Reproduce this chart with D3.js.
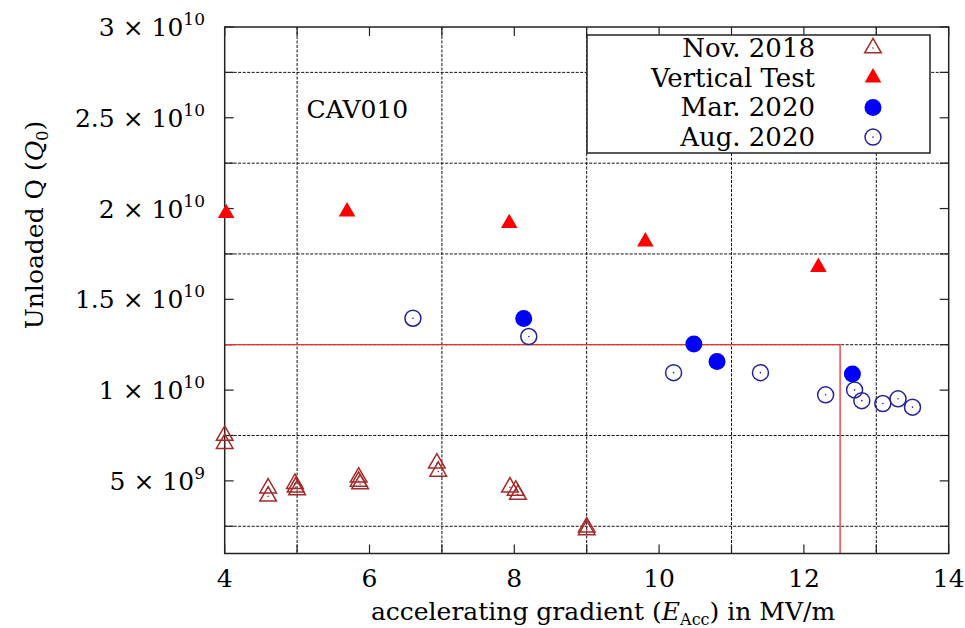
<!DOCTYPE html>
<html>
<head>
<meta charset="utf-8">
<script src="https://cdn.jsdelivr.net/npm/d3@7"></script>
<style>
body { margin: 0; background: #fff; }
svg { font-family: "DejaVu Serif", "Liberation Serif", serif; }
</style>
</head>
<body>
<div id="chart"></div>
<script>
// Nov. 2018 (hollow triangles)
var nov2018Grad = [4.0, 4.0, 4.6, 4.6, 4.97, 4.98, 5.0, 5.85, 5.85, 5.87, 6.93, 6.95, 7.94, 8.02, 8.05, 9.0, 9.0];
var nov2018Q = [7.5e9, 7.05e9, 4.6e9, 4.15e9, 4.85e9, 4.65e9, 4.5e9, 5.2e9, 4.97e9, 4.83e9, 5.97e9, 5.52e9, 4.65e9, 4.48e9, 4.25e9, 2.45e9, 2.3e9];
// vertical test (filled triangles)
var vtGrad = [4.02, 5.69, 7.93, 9.81, 12.2];
var vtQ = [1.974e10, 1.983e10, 1.919e10, 1.818e10, 1.677e10];
// Mar. 2020 (filled circles)
var mar2020Grad = [8.13, 10.48, 10.8, 12.67];
var mar2020Q = [1.395e10, 1.254e10, 1.157e10, 1.089e10];
// Aug. 2020 (hollow circles)
var aug2020Grad = [6.6, 8.2, 10.2, 11.4, 12.3, 12.7, 12.8, 13.09, 13.3, 13.5];
var aug2020Q = [1.396e10, 1.295e10, 1.096e10, 1.096e10, 9.74e9, 1.001e10, 9.42e9, 9.26e9, 9.52e9, 9.06e9];
// spec box
var specGrad = 12.5, specQ = 1.25e10;

var xTicks = [4, 5, 6, 7, 8, 9, 10, 11, 12, 13, 14];
var xLabels = [4, 6, 8, 10, 12, 14];
var xGrid = [5, 7, 9, 11, 13];
var yLabels = [
	{ v: 5e9, m: '5', e: '9' },
	{ v: 1e10, m: '1', e: '10' },
	{ v: 1.5e10, m: '1.5', e: '10' },
	{ v: 2e10, m: '2', e: '10' },
	{ v: 2.5e10, m: '2.5', e: '10' },
	{ v: 3e10, m: '3', e: '10' }
];
var yGrid = [2.5e9, 7.5e9, 1.25e10, 1.75e10, 2.25e10, 2.75e10];

var width = 965, height = 628;
var plot = { left: 224.7, right: 948.7, top: 27, bottom: 553.5 };

var x = d3.scaleLinear().domain([4, 14]).range([plot.left, plot.right]);
var y = d3.scaleLinear().domain([1e9, 3e10]).range([plot.bottom, plot.top]);

var svg = d3.select('#chart').append('svg')
	.attr('width', width)
	.attr('height', height);

// grid on minor ticks
var grid = svg.append('g')
	.attr('stroke', '#111')
	.attr('stroke-width', 1)
	.attr('stroke-dasharray', '3,1.5');
grid.selectAll('.gx').data(xGrid).enter().append('line')
	.attr('x1', d => x(d)).attr('x2', d => x(d))
	.attr('y1', plot.top).attr('y2', plot.bottom);
grid.selectAll('.gy').data(yGrid).enter().append('line')
	.attr('x1', plot.left).attr('x2', plot.right)
	.attr('y1', d => y(d)).attr('y2', d => y(d));

// ticks, inward on all four sides
var tickLen = 9;
var ticks = svg.append('g').attr('stroke', '#222').attr('stroke-width', 1.2);
xTicks.forEach(d => {
	ticks.append('line').attr('x1', x(d)).attr('x2', x(d)).attr('y1', plot.bottom).attr('y2', plot.bottom - tickLen);
	ticks.append('line').attr('x1', x(d)).attr('x2', x(d)).attr('y1', plot.top).attr('y2', plot.top + tickLen);
});
var yTicks = d3.range(2.5e9, 3.01e10, 2.5e9);
yTicks.forEach(d => {
	ticks.append('line').attr('x1', plot.left).attr('x2', plot.left + tickLen).attr('y1', y(d)).attr('y2', y(d));
	ticks.append('line').attr('x1', plot.right).attr('x2', plot.right - tickLen).attr('y1', y(d)).attr('y2', y(d));
});

// spec lines
var spec = svg.append('g').attr('stroke', '#f03030').attr('stroke-width', 1.3).attr('fill', 'none');
spec.append('path')
	.attr('d', d3.line()([[x(4), y(specQ)], [x(specGrad), y(specQ)], [x(specGrad), y(1e9)]]));

// legend box (opaque)
var legend = svg.append('g');
legend.append('rect')
	.attr('x', 587).attr('y', 35).attr('width', 343).attr('height', 118)
	.attr('fill', '#fff').attr('stroke', '#222').attr('stroke-width', 1.5);

// border
svg.append('rect')
	.attr('x', plot.left).attr('y', plot.top)
	.attr('width', plot.right - plot.left).attr('height', plot.bottom - plot.top)
	.attr('fill', 'none').attr('stroke', '#222').attr('stroke-width', 1.5);

// markers
var triSym = d3.symbol().type(d3.symbolTriangle).size(120);
var darkRed = '#a52a2a', red = '#ff0000', blue = '#0000ff', navy = '#22229a';

function hollowTri(g, px, py) {
	g.append('path').attr('d', triSym).attr('transform', `translate(${px},${py})`)
		.attr('fill', 'none').attr('stroke', darkRed).attr('stroke-width', 1.5);
	g.append('circle').attr('cx', px).attr('cy', py).attr('r', 0.8).attr('fill', darkRed);
}
function filledTri(g, px, py) {
	g.append('path').attr('d', triSym).attr('transform', `translate(${px},${py})`).attr('fill', red);
}
function filledCirc(g, px, py) {
	g.append('circle').attr('cx', px).attr('cy', py).attr('r', 8.5).attr('fill', blue);
}
function hollowCirc(g, px, py) {
	g.append('circle').attr('cx', px).attr('cy', py).attr('r', 8).attr('fill', 'none')
		.attr('stroke', navy).attr('stroke-width', 1.5);
	g.append('circle').attr('cx', px).attr('cy', py).attr('r', 0.8).attr('fill', navy);
}

var marks = svg.append('g');
nov2018Grad.forEach((g, i) => hollowTri(marks, x(g), y(nov2018Q[i])));
vtGrad.forEach((g, i) => filledTri(marks, x(g), y(vtQ[i])));
mar2020Grad.forEach((g, i) => filledCirc(marks, x(g), y(mar2020Q[i])));
aug2020Grad.forEach((g, i) => hollowCirc(marks, x(g), y(aug2020Q[i])));

// legend entries
var legendNames = ['Nov. 2018', 'Vertical Test', 'Mar. 2020', 'Aug. 2020'];
var legendDraw = [hollowTri, filledTri, filledCirc, hollowCirc];
legendNames.forEach((name, i) => {
	var cy = 48 + i * 29.7;
	legend.append('text')
		.attr('x', 815).attr('y', cy + 9)
		.attr('text-anchor', 'end')
		.attr('font-size', 26)
		.text(name);
	legendDraw[i](legend, 873, cy);
});

// tick labels
var fs = 25;
xLabels.forEach(d => {
	svg.append('text')
		.attr('x', x(d)).attr('y', 587)
		.attr('text-anchor', 'middle')
		.attr('font-size', fs)
		.text(d);
});
yLabels.forEach(d => {
	var t = svg.append('text')
		.attr('x', 205).attr('y', y(d.v) + 9)
		.attr('text-anchor', 'end')
		.attr('font-size', fs);
	t.append('tspan').text(d.m + ' \u00d7 10');
	t.append('tspan').attr('dy', -11).attr('font-size', 17).text(d.e);
});

// axis titles
var xt = svg.append('text')
	.attr('x', 603).attr('y', 620)
	.attr('text-anchor', 'middle')
	.attr('font-size', fs);
xt.append('tspan').text('accelerating gradient (');
xt.append('tspan').attr('font-style', 'italic').text('E');
xt.append('tspan').attr('dy', 5).attr('font-size', 16).text('Acc');
xt.append('tspan').attr('dy', -5).text(') in MV/m');

var yt = svg.append('text')
	.attr('transform', 'translate(43,225) rotate(-90)')
	.attr('text-anchor', 'middle')
	.attr('font-size', fs);
yt.append('tspan').text('Unloaded Q (');
yt.append('tspan').attr('font-style', 'italic').text('Q');
yt.append('tspan').attr('dy', 5).attr('font-size', 16).text('0');
yt.append('tspan').attr('dy', -5).text(')');

// cavity name
svg.append('text')
	.attr('x', x(5.13)).attr('y', y(2.5e10))
	.attr('font-size', fs)
	.text('CAV010');
</script>
</body>
</html>
